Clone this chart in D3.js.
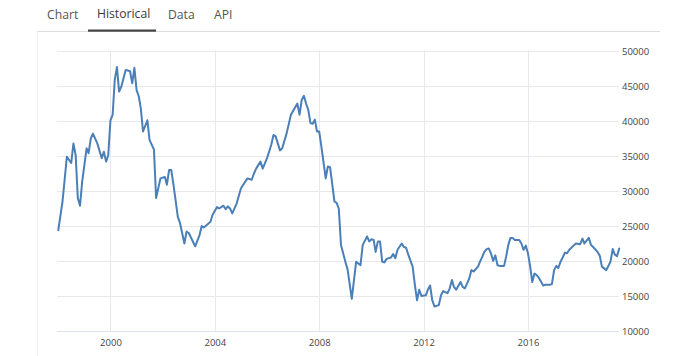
<!DOCTYPE html>
<html>
<head>
<meta charset="utf-8">
<script src="https://cdn.jsdelivr.net/npm/d3@7"></script>
<style>
  html, body { margin: 0; padding: 0; background: #ffffff; }
  svg { display: block; }
</style>
</head>
<body>
<svg id="chart" width="690" height="356"></svg>
<script>
// ---- data ----
const tabs = ["Chart", "Historical", "Data", "API"];
const activeTab = "Historical";

const months = [
  "1998-01","1998-03","1998-05","1998-07","1998-08","1998-09","1998-10","1998-11","1998-12",
  "1999-02","1999-03","1999-04","1999-05","1999-07","1999-09","1999-10","1999-11","1999-12",
  "2000-01","2000-02","2000-03","2000-04","2000-05","2000-06","2000-08","2000-10","2000-11","2000-12",
  "2001-01","2001-02","2001-03","2001-04","2001-06","2001-07","2001-09","2001-10","2001-12",
  "2002-02","2002-03","2002-04","2002-05","2002-06","2002-08","2002-09","2002-11","2002-12",
  "2003-01","2003-04","2003-06","2003-07","2003-08","2003-11","2003-12",
  "2004-02","2004-03","2004-05","2004-06","2004-07","2004-08","2004-09","2004-11",
  "2005-01","2005-04","2005-06","2005-07","2005-08","2005-10","2005-11",
  "2006-01","2006-03","2006-04","2006-05","2006-07","2006-08","2006-10","2006-12",
  "2007-03","2007-04","2007-05","2007-06","2007-07","2007-08","2007-09","2007-10","2007-11","2007-12",
  "2008-01","2008-02","2008-04","2008-05","2008-06","2008-08","2008-09","2008-10","2008-11",
  "2009-01","2009-02","2009-04","2009-06","2009-08","2009-09","2009-11","2009-12",
  "2010-01","2010-02","2010-03","2010-04","2010-05","2010-06","2010-07","2010-08","2010-10","2010-11","2010-12",
  "2011-01","2011-03","2011-04","2011-05","2011-06","2011-08","2011-09","2011-10","2011-11","2011-12",
  "2012-02","2012-03","2012-04","2012-05","2012-06","2012-08","2012-09","2012-10","2012-12",
  "2013-01","2013-02","2013-03","2013-04","2013-06","2013-07","2013-08","2013-09","2013-10","2013-11","2013-12",
  "2014-02","2014-03","2014-04","2014-05","2014-06","2014-07","2014-08","2014-09","2014-10","2014-11","2014-12",
  "2015-02","2015-03","2015-04","2015-05","2015-06","2015-07","2015-09","2015-10","2015-11","2015-12",
  "2016-01","2016-02","2016-03","2016-04","2016-05","2016-06","2016-08","2016-09","2016-11","2016-12",
  "2017-01","2017-02","2017-03","2017-04","2017-05","2017-06","2017-07","2017-08","2017-10","2017-11",
  "2018-01","2018-02","2018-03","2018-04","2018-05","2018-06","2018-07","2018-09","2018-10","2018-11",
  "2019-01","2019-03","2019-04","2019-05","2019-06","2019-07"
];

const values = [
  24400,28500,34900,34000,36800,35100,29000,27900,31300,
  36100,35400,37500,38200,36800,34700,35600,34200,35100,
  40100,40900,45900,47700,44200,44900,47300,47100,45400,47600,
  44400,43500,41800,38500,40100,37300,35900,29000,31800,
  32000,30900,33000,33000,30900,26300,25400,22500,24200,
  24000,22100,23700,25000,24800,25600,26600,
  27700,27500,27900,27400,27800,27500,26800,28200,
  30400,31800,31600,32500,33200,34200,33200,
  34700,36600,38000,37800,35800,36100,38200,40900,
  42500,40900,43000,43600,42500,41600,39700,39600,40200,38500,
  38500,36300,31800,33500,33400,28500,28300,27500,22300,
  19900,18800,14600,19900,19400,22300,23500,22800,
  23100,23000,21300,22800,22800,19900,19800,20300,20500,21000,20400,
  21600,22500,22000,21900,20900,19200,16600,14400,15900,15000,
  15100,15900,16500,14400,13500,13700,15100,15700,15400,
  16100,17300,16300,15900,17000,16300,16100,16800,17500,18700,18500,
  19200,19900,20600,21300,21700,21800,21100,20000,20800,19400,19300,
  19300,20600,22300,23300,23300,23000,23000,22500,21600,22200,
  21100,19200,17000,18200,18000,17600,16500,16600,16600,16700,
  18700,19300,19000,19900,20500,21200,21100,21600,22200,22500,
  22400,23200,22500,22900,23300,22300,22000,21300,20800,19200,
  18700,19900,21700,20900,20700,21800
];

const yTicks = [10000, 15000, 20000, 25000, 30000, 35000, 40000, 45000, 50000];
const xTickYears = [2000, 2004, 2008, 2012, 2016];

// ---- build ----
const parse = d3.timeParse("%Y-%m");
const data = months.map((m, i) => ({ date: parse(m), value: values[i] }));

const svg = d3.select("#chart");
const font = "'Open Sans', 'Noto Sans', sans-serif";

// tabs header
const tabX = [47, 97, 168, 214];
svg.append("line")
  .attr("x1", 37).attr("x2", 660).attr("y1", 31.5).attr("y2", 31.5)
  .attr("stroke", "#dcdcdc").attr("stroke-width", 1);
svg.append("line")
  .attr("x1", 37.5).attr("x2", 37.5).attr("y1", 32).attr("y2", 356)
  .attr("stroke", "#f0f0f0").attr("stroke-width", 1);

const tabG = svg.append("g");
tabs.forEach((t, i) => {
  tabG.append("text")
    .attr("x", tabX[i]).attr("y", t === activeTab ? 18 : 19)
    .attr("font-family", font).attr("font-size", 12.2)
    .attr("fill", t === activeTab ? "#3a3a3a" : "#555")
    .text(t);
});
svg.append("rect")
  .attr("x", 88).attr("y", 29.5).attr("width", 68).attr("height", 2.2)
  .attr("fill", "#444");

// scales
const x = d3.scaleTime()
  .domain([parse("1998-01"), parse("2019-07")])
  .range([58.3, 619.2]);
const y = d3.scaleLinear()
  .domain([10000, 50000])
  .range([331, 51]);

const plotLeft = 57, plotRight = 619;

// horizontal grid
svg.append("g")
  .selectAll("line")
  .data(yTicks)
  .join("line")
  .attr("x1", plotLeft).attr("x2", plotRight)
  .attr("y1", d => Math.round(y(d)) + 0.5).attr("y2", d => Math.round(y(d)) + 0.5)
  .attr("stroke", d => d === 10000 ? "#dde2ec" : "#e8e8e8")
  .attr("stroke-width", 1);

// vertical grid
const xTickDates = xTickYears.map(yr => new Date(yr, 0, 1));
svg.append("g")
  .selectAll("line")
  .data(xTickDates)
  .join("line")
  .attr("x1", d => Math.round(x(d)) + 0.5).attr("x2", d => Math.round(x(d)) + 0.5)
  .attr("y1", 50).attr("y2", 331)
  .attr("stroke", "#e8e8ee")
  .attr("stroke-width", 1);

// y axis (right)
const yAxis = d3.axisRight(y).tickValues(yTicks).tickSize(0).tickPadding(3)
  .tickFormat(d3.format("d"));
const yG = svg.append("g")
  .attr("transform", `translate(${plotRight},0)`)
  .call(yAxis);
yG.select(".domain").remove();
yG.selectAll("text")
  .attr("font-family", font).attr("font-size", 9.5).attr("fill", "#444");

// x axis (bottom)
const xAxis = d3.axisBottom(x).tickValues(xTickDates).tickSize(0).tickPadding(8)
  .tickFormat(d3.timeFormat("%Y"));
const xG = svg.append("g")
  .attr("transform", "translate(0,331)")
  .call(xAxis);
xG.select(".domain").remove();
xG.selectAll("text")
  .attr("font-family", font).attr("font-size", 9.5).attr("fill", "#444");

// line
const line = d3.line()
  .x(d => x(d.date))
  .y(d => y(d.value))
  .curve(d3.curveLinear);

svg.append("path")
  .datum(data)
  .attr("d", line)
  .attr("fill", "none")
  .attr("stroke", "#4a7fb8")
  .attr("stroke-width", 2)
  .attr("stroke-linejoin", "round")
  .attr("stroke-linecap", "round");
</script>
</body>
</html>
